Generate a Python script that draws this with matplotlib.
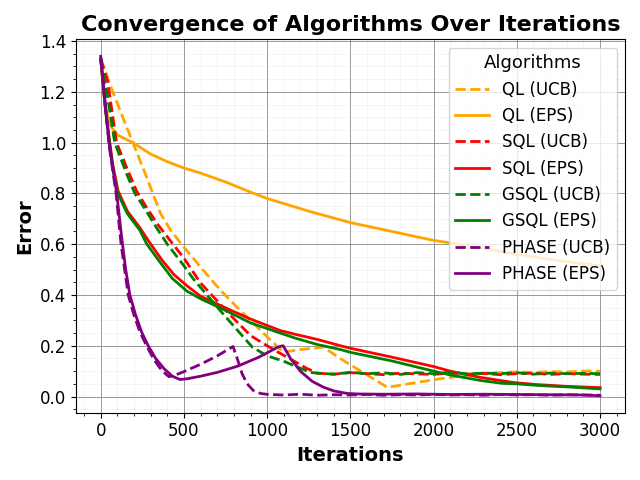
import matplotlib
matplotlib.use("Agg")
import matplotlib.pyplot as plt

# readings (iteration, error)
ql_ucb_it = [0, 72, 193, 260, 313, 360, 420, 485, 600, 717, 837, 1000, 1096, 1200, 1337, 1450,
             1600, 1723, 1850, 2000, 2100, 2200, 2300, 2400, 2500, 2600, 2700, 2800, 2900, 3000]
ql_ucb = [1.33, 1.2, 1.0, 0.89, 0.80, 0.72, 0.655, 0.60, 0.51, 0.42, 0.34, 0.235, 0.175, 0.185,
          0.195, 0.145, 0.085, 0.036, 0.05, 0.066, 0.075, 0.084, 0.092, 0.094, 0.097, 0.095, 0.098,
          0.097, 0.1, 0.1]

ql_eps_it = [0, 25, 54, 100, 193, 300, 400, 500, 600, 750, 900, 1000, 1250, 1500, 1750, 2000,
             2250, 2500, 2750, 3000]
ql_eps = [1.33, 1.15, 1.07, 1.03, 1.0, 0.955, 0.925, 0.90, 0.88, 0.845, 0.805, 0.78, 0.73, 0.685,
          0.65, 0.615, 0.59, 0.56, 0.535, 0.515]

sql_ucb_it = [0, 42, 95, 160, 215, 270, 340, 434, 500, 596, 765, 900, 1000, 1078, 1160, 1240, 1300,
              1400, 1500, 1600, 1700, 1800, 1900, 2000, 2100, 2200, 2300, 2400, 2500, 2600, 2700,
              2800, 2900, 3000]
sql_ucb = [1.33, 1.24, 1.0, 0.895, 0.81, 0.75, 0.68, 0.60, 0.545, 0.45, 0.33, 0.24, 0.20, 0.17,
           0.14, 0.11, 0.092, 0.088, 0.094, 0.09, 0.086, 0.092, 0.089, 0.087, 0.093, 0.088, 0.091,
           0.086, 0.09, 0.092, 0.087, 0.09, 0.088, 0.087]

sql_eps_it = [0, 30, 72, 104, 160, 235, 290, 365, 440, 520, 600, 747, 900, 1078, 1169, 1300, 1440,
              1500, 1750, 2000, 2100, 2283, 2482, 2600, 2800, 3000]
sql_eps = [1.33, 1.12, 0.915, 0.81, 0.73, 0.665, 0.61, 0.54, 0.48, 0.435, 0.395, 0.35, 0.305, 0.26,
           0.245, 0.225, 0.20, 0.19, 0.155, 0.118, 0.10, 0.075, 0.055, 0.048, 0.04, 0.035]

gsql_ucb_it = [0, 36, 84, 160, 205, 260, 330, 400, 500, 554, 729, 910, 1000, 1096, 1150, 1259,
               1300, 1400, 1500, 1600, 1700, 1800, 1900, 2000, 2100, 2200, 2300, 2400, 2500, 2600,
               2700, 2800, 2900, 3000]
gsql_ucb = [1.33, 1.2, 1.0, 0.87, 0.80, 0.745, 0.67, 0.60, 0.515, 0.465, 0.33, 0.195, 0.16, 0.14,
            0.125, 0.095, 0.092, 0.088, 0.095, 0.09, 0.093, 0.087, 0.094, 0.09, 0.096, 0.089, 0.092,
            0.09, 0.094, 0.088, 0.092, 0.09, 0.091, 0.09]

gsql_eps_it = [0, 30, 72, 102, 160, 235, 277, 355, 430, 518, 600, 747, 900, 1078, 1169, 1300,
               1440, 1500, 1750, 2000, 2100, 2283, 2410, 2500, 2640, 2800, 3000]
gsql_eps = [1.33, 1.12, 0.90, 0.80, 0.72, 0.655, 0.60, 0.53, 0.465, 0.415, 0.385, 0.34, 0.29, 0.25,
            0.23, 0.205, 0.185, 0.174, 0.14, 0.10, 0.085, 0.063, 0.052, 0.05, 0.043, 0.038, 0.03]

phase_ucb_it = [0, 25, 50, 92, 122, 165, 200, 235, 275, 320, 370, 410, 450, 500, 600, 700, 795,
                820, 849, 880, 916, 960, 1006, 1100, 1200, 1300, 1400, 1500, 1600, 1700, 1800,
                1900, 2000, 2100, 2200, 2300, 2400, 2500, 2600, 2700, 2800, 2900, 3000]
phase_ucb = [1.33, 1.16, 0.99, 0.8, 0.6, 0.4, 0.32, 0.255, 0.2, 0.145, 0.10, 0.078, 0.085, 0.098,
             0.127, 0.16, 0.197, 0.15, 0.09, 0.05, 0.024, 0.012, 0.008, 0.006, 0.009, 0.005, 0.007,
             0.006, 0.008, 0.005, 0.007, 0.006, 0.008, 0.006, 0.007, 0.005, 0.008, 0.006, 0.007,
             0.005, 0.007, 0.006, 0.005]

phase_eps_it = [0, 25, 50, 96, 127, 150, 175, 210, 245, 285, 330, 380, 430, 476, 520, 600, 700,
                825, 950, 1066, 1096, 1140, 1199, 1270, 1337, 1400, 1482, 1550, 1700, 1900, 2100,
                2300, 2500, 2700, 2900, 3000]
phase_eps = [1.34, 1.17, 1.0, 0.8, 0.62, 0.5, 0.4, 0.32, 0.255, 0.2, 0.15, 0.11, 0.08, 0.067, 0.07,
             0.08, 0.095, 0.12, 0.155, 0.195, 0.2, 0.15, 0.10, 0.06, 0.037, 0.022, 0.012, 0.01,
             0.009, 0.01, 0.008, 0.009, 0.008, 0.007, 0.006, 0.003]

series = [
    ("QL (UCB)", ql_ucb_it, ql_ucb, "orange", "--"),
    ("QL (EPS)", ql_eps_it, ql_eps, "orange", "-"),
    ("SQL (UCB)", sql_ucb_it, sql_ucb, "red", "--"),
    ("SQL (EPS)", sql_eps_it, sql_eps, "red", "-"),
    ("GSQL (UCB)", gsql_ucb_it, gsql_ucb, "green", "--"),
    ("GSQL (EPS)", gsql_eps_it, gsql_eps, "green", "-"),
    ("PHASE (UCB)", phase_ucb_it, phase_ucb, "purple", "--"),
    ("PHASE (EPS)", phase_eps_it, phase_eps, "purple", "-"),
]

fig, ax = plt.subplots(figsize=(6.4, 4.8), dpi=100)
for name, xs, ys, col, ls in series:
    ax.plot(xs, ys, color=col, linestyle=ls, linewidth=2, label=name)

ax.set_title("Convergence of Algorithms Over Iterations", fontsize=16, fontweight="bold")
ax.set_xlabel("Iterations", fontsize=14, fontweight="bold")
ax.set_ylabel("Error", fontsize=14, fontweight="bold")
ax.tick_params(axis="both", labelsize=12)
ax.minorticks_on()
ax.grid(which="major", color="gray", linestyle="-", linewidth=0.7, alpha=0.8)
ax.grid(which="minor", color="lightgray", linestyle="-", linewidth=0.5, alpha=0.3)
ax.legend(title="Algorithms", fontsize=12, title_fontsize=13, loc="upper right")

plt.tight_layout()
plt.savefig("out.png")
